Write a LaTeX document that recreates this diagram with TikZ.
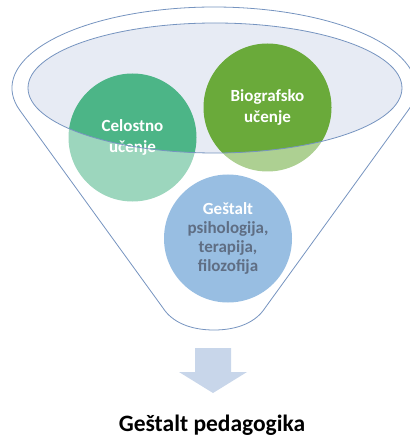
\documentclass[tikz,border=0pt]{standalone}
\usepackage{fontspec}
\setmainfont{Carlito}
\definecolor{rimline}{RGB}{118,148,192}
\definecolor{rimfill}{RGB}{231,235,244}
\definecolor{celostnogreen}{RGB}{76,181,135}
\definecolor{biografgreen}{RGB}{106,170,58}
\definecolor{gestaltblue}{RGB}{152,190,226}
\definecolor{gestalttext}{RGB}{95,110,132}
\definecolor{arrowblue}{RGB}{200,214,234}
\begin{document}
\begin{tikzpicture}[x=1pt, y=-1pt, line width=0.8pt,
    ball/.style={circle, minimum size=128pt, inner sep=0pt, align=center,
                 font=\bfseries\fontsize{17}{21}\selectfont, text=white}]
    \useasboundingbox (0,0) rectangle (409,438);
    \fill[rimfill] (215,88) ellipse [x radius=187, y radius=65];
    \node[ball, fill=celostnogreen] (celostno) at (132.5,137.5) {Celostno\\učenje};
    \node[ball, fill=biografgreen] (biografsko) at (267.5,107.5) {Biografsko\\učenje};
    % lighter part of the balls below the rim
    \fill[white, opacity=0.45, even odd rule] (0,0) rectangle (409,438)
        (215,88) ellipse [x radius=187, y radius=65];
    \draw[rimline] (20.0,110.6) arc [start angle=163.81, end angle=376.19, x radius=202, y radius=81]
        -- (265,308) .. controls (256,322) and (238,330) .. (214,330)
        .. controls (190,330) and (172,322) .. (163,308) -- cycle;
    \draw[rimline] (215,88) ellipse [x radius=187, y radius=65];
    \node[ball, fill=gestaltblue, text=gestalttext, font=\bfseries\fontsize{17}{19}\selectfont]
        (gestalt) at (228,238.5) {\textcolor{white}{Geštalt}\\psihologija,\\terapija,\\filozofija};
    \fill[arrowblue] (195,348) -- (231,348) -- (231,372) -- (247,372) -- (213,393)
        -- (179,372) -- (195,372) -- cycle;
    \node[anchor=base, font=\bfseries\fontsize{23.5}{28}\selectfont] (pedagogika) at (212,431) {Geštalt pedagogika};
\end{tikzpicture}
\end{document}
